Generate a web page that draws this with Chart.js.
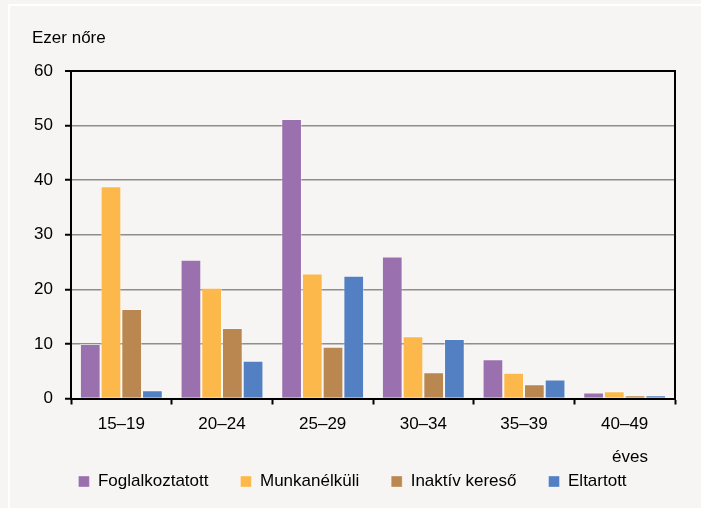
<!DOCTYPE html>
<html>
<head>
<meta charset="utf-8">
<script src="https://cdn.jsdelivr.net/npm/chart.js@4"></script>
<style>
  html, body { margin: 0; padding: 0; background: #f6f5f3; }
  #wrap { position: relative; width: 701px; height: 508px; overflow: hidden; }
  #frame { position: absolute; left: 8px; top: 4px; width: 720px; height: 540px;
           border-left: 2px solid #fff; border-top: 2px solid #fff; }
  #c { position: absolute; left: 0; top: 0; }
</style>
</head>
<body>
<div id="wrap">
  <div id="frame"></div>
  <canvas id="c" width="701" height="508"></canvas>
</div>
<script>
// ── DATA ──
const AGE_GROUPS     = ['15–19', '20–24', '25–29', '30–34', '35–39', '40–49'];
const FOGLALKOZTATOTT = [10.0, 25.4, 51.2, 26.0, 7.2, 1.1];
const MUNKANELKULI    = [38.9, 20.3, 22.9, 11.4, 4.7, 1.35];
const INAKTIV_KERESO  = [16.4, 12.9, 9.5, 4.8, 2.6, 0.6];
const ELTARTOTT       = [1.5, 6.9, 22.5, 10.9, 3.5, 0.6];
const Y_TICKS         = [0, 10, 20, 30, 40, 50, 60];

const COLORS = {
  purple: '#9b70af',
  orange: '#fdb84b',
  brown:  '#b9874f',
  blue:   '#5280c2',
};
const FONT = "'Liberation Sans', Arial, sans-serif";

Chart.defaults.font.family = FONT;
Chart.defaults.font.size   = 17;
Chart.defaults.color       = '#000';
Chart.defaults.animation   = false;

// extra texts + plot frame
const decorations = {
  id: 'decorations',
  afterDraw(chart) {
    const { ctx, chartArea } = chart;
    ctx.save();
    ctx.strokeStyle = '#000';
    ctx.lineWidth = 2;
    ctx.beginPath();
    ctx.moveTo(chartArea.left, chartArea.top);
    ctx.lineTo(chartArea.right, chartArea.top);
    ctx.lineTo(chartArea.right, chartArea.bottom);
    ctx.stroke();

    ctx.fillStyle = '#000';
    ctx.font = '17px ' + FONT;
    ctx.textBaseline = 'middle';
    ctx.textAlign = 'left';
    ctx.fillText('Ezer nőre', 32, 38);
    ctx.textAlign = 'right';
    ctx.fillText('éves', 648, 457);
    ctx.restore();
  }
};

function ds(label, data, color) {
  return {
    label, data,
    backgroundColor: color,
    borderColor: 'rgba(255,255,255,0.35)',
    borderWidth: 1,
    categoryPercentage: 0.823,
    barPercentage: 1.0,
  };
}

new Chart(document.getElementById('c'), {
  type: 'bar',
  data: {
    labels: AGE_GROUPS,
    datasets: [
      ds('Foglalkoztatott', FOGLALKOZTATOTT, COLORS.purple),
      ds('Munkanélküli',    MUNKANELKULI,    COLORS.orange),
      ds('Inaktív kereső',  INAKTIV_KERESO,  COLORS.brown),
      ds('Eltartott',       ELTARTOTT,       COLORS.blue),
    ]
  },
  options: {
    responsive: false,
    layout: { padding: { left: 30, right: 26, top: 71, bottom: 8 } },
    scales: {
      x: {
        offset: true,
        afterFit: s => { s.height = 42.5; },
        grid: {
          offset: true,
          drawOnChartArea: false,
          tickLength: 6,
          tickColor: '#000',
          tickWidth: 2,
        },
        border: { color: '#000', width: 2 },
        ticks: { padding: 10, maxRotation: 0 },
      },
      y: {
        min: 0, max: 60,
        afterBuildTicks: s => { s.ticks = Y_TICKS.map(v => ({ value: v })); },
        afterFit: s => { s.width = 41; },
        grid: {
          color: c => (c.tick && c.tick.value === 60) ? '#000' : '#8e8e8e',
          lineWidth: c => (c.tick && c.tick.value === 60) ? 2 : 1.5,
          tickLength: 6,
          tickColor: '#000',
          tickWidth: 2,
        },
        border: { color: '#000', width: 2 },
        ticks: { padding: 12 },
      }
    },
    plugins: {
      legend: {
        display: true,
        position: 'bottom',
        labels: { boxWidth: 11, boxHeight: 11, padding: 32, font: { size: 17 } },
      },
      tooltip: { enabled: false },
    }
  },
  plugins: [decorations]
});
</script>
</body>
</html>
